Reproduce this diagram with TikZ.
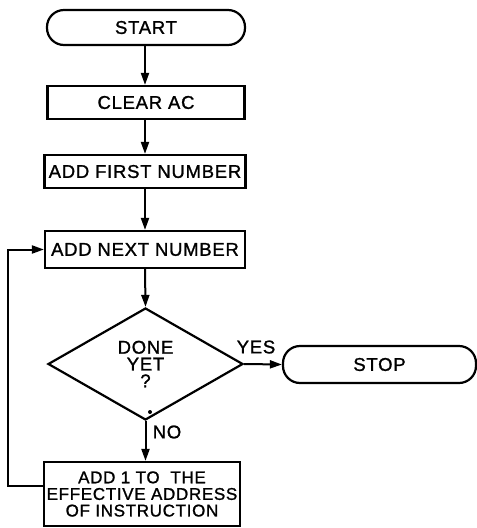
\documentclass[tikz,border=0pt]{standalone}
\usepackage{fontspec}
\setmainfont{Liberation Sans}[LetterSpace=4,FakeBold=1.2]
\usetikzlibrary{arrows.meta,shapes.geometric}
\begin{document}
\begin{tikzpicture}[x=1pt,y=-1pt,
  every node/.style={font=\fontsize{18.5}{16.8}\selectfont},
  arr/.style={line width=2pt, -{Triangle[length=12pt,width=8pt]}},
  box/.style={draw, line width=2.2pt, inner sep=0pt, align=center},
  term/.style={box, rounded corners=17pt},
  dec/.style={draw, diamond, line width=2.2pt, inner sep=0pt, align=center},
  lbl/.style={inner sep=0pt}]
\useasboundingbox (0,0) rectangle (477,528);
\node[term, minimum width=198pt, minimum height=35pt] (start) at (146,27.5) {START};
\node[box, minimum width=197pt, minimum height=33pt] (clear) at (146,102.5) {CLEAR AC};
\node[box, minimum width=201pt, minimum height=33pt] (first) at (145,171.5) {ADD FIRST NUMBER};
\node[box, minimum width=200pt, minimum height=37pt] (next) at (145,249.5) {ADD NEXT NUMBER};
\node[dec, minimum width=195pt, minimum height=112pt] (done) at (145.5,364) {DONE\\YET\\?};
\node[term, minimum width=193pt, minimum height=37pt] (stop) at (379.5,364.5) {STOP};
\node[box, minimum width=196pt, minimum height=64pt, font=\fontsize{17}{16.6}\selectfont] (last) at (142,494)
  {ADD 1 TO\ \ THE\\EFFECTIVE ADDRESS\\OF INSTRUCTION};
\node[lbl] (yes) at (256,347) {YES};
\node[lbl] (no) at (167,432) {NO};
\fill (150,412) circle (2pt);
\coordinate (lp) at (8,486);
\draw[arr] (start.south -| 145,0) -- (clear.north -| 145,0);
\draw[arr] (clear.south -| 145,0) -- (first.north -| 145,0);
\draw[arr] (first.south -| 145,0) -- (next.north -| 145,0);
\draw[arr] (next.south -| 145,0) -- (done.north);
\draw[arr] (done.east) -- (stop.west);
\draw[arr] (done.south) -- (last.north -| done.south);
\draw[arr] ([yshift=8pt]last.west) -- (lp) |- (next.west);
\end{tikzpicture}
\end{document}
